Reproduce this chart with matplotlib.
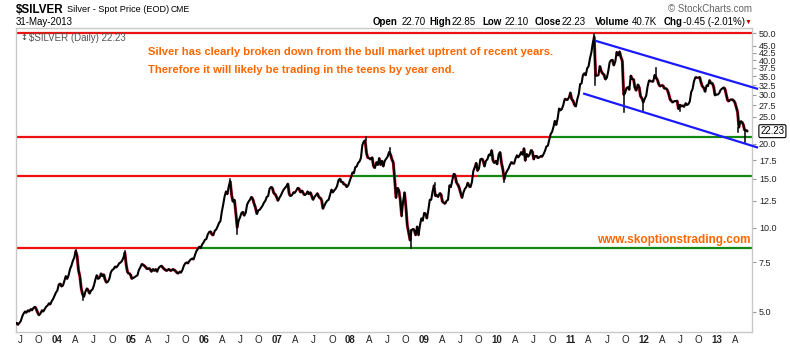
import matplotlib
matplotlib.use("Agg")
import matplotlib.pyplot as plt
import matplotlib.dates as mdates
from matplotlib.collections import LineCollection
import numpy as np
import pandas as pd

plt.rcParams["font.family"] = ["Liberation Sans", "DejaVu Sans"]

# Weekly (Friday) closes, $/oz. Each list starts on the first Friday of its year.
silver_2003 = [4.52, 4.55, 4.48, 4.55,
               4.62, 4.80, 4.92, 5.00,
               4.95, 5.05, 5.00, 5.10, 5.05,
               5.15, 5.20, 5.10, 4.95,
               4.85, 4.92, 5.05, 5.00, 5.10,
               5.20, 5.25, 5.35, 5.30,
               5.45, 5.55, 5.70, 5.85]
silver_2004 = [5.95, 6.25, 6.30, 6.15, 6.20,
               6.45, 6.70, 6.55, 6.75,
               7.10, 7.30, 7.60, 7.80,
               8.25, 7.95, 7.05, 6.70, 6.05,
               5.75, 5.65, 5.90, 6.05,
               5.95, 5.80, 5.95, 6.00,
               6.20, 6.50, 6.75, 6.55, 6.60,
               6.85, 6.70, 6.80, 6.50,
               6.35, 6.40, 6.55, 6.90,
               7.05, 7.10, 7.25, 7.20, 7.30,
               7.45, 7.50, 7.60, 7.80,
               8.15, 7.35, 6.90, 6.85, 6.80]
silver_2005 = [6.55, 6.60, 6.65, 6.70,
               6.75, 7.05, 7.20, 7.40,
               7.35, 7.30, 7.20, 7.10,
               7.15, 7.10, 6.95, 7.10, 7.00,
               7.10, 6.95, 7.15, 7.25,
               7.30, 7.20, 7.10, 7.05,
               7.00, 7.10, 7.05, 7.00, 7.10,
               7.05, 7.00, 6.90, 6.85,
               6.95, 6.90, 7.05, 7.30, 7.45,
               7.50, 7.45, 7.60, 7.70,
               7.75, 7.70, 8.00, 8.25,
               8.40, 8.55, 8.45, 8.70, 8.85]
silver_2006 = [9.05, 9.10, 9.45, 9.65,
               9.70, 9.45, 9.40, 9.75,
               9.85, 10.10, 10.40, 10.55, 11.40,
               12.10, 12.95, 13.50, 13.20,
               14.10, 14.70, 13.10, 12.40,
               12.60, 11.30, 10.00, 10.60, 10.90,
               11.30, 11.40, 11.05, 11.30,
               12.10, 12.40, 12.60, 12.90,
               12.70, 12.20, 11.80, 11.20, 11.55,
               11.60, 11.80, 12.00, 12.30,
               12.50, 12.90, 13.00, 13.80,
               14.00, 13.90, 13.30, 13.20, 12.90]
silver_2007 = [12.50, 12.80, 13.05, 13.40,
               13.70, 13.90, 14.10, 14.40,
               13.20, 13.00, 13.10, 13.40, 13.35,
               13.60, 13.90, 13.80, 13.40,
               13.60, 13.30, 13.10, 13.20,
               13.50, 13.20, 13.40, 13.00, 12.60,
               12.90, 13.10, 13.30, 12.90,
               12.80, 12.60, 11.70, 12.00, 12.30,
               12.50, 12.60, 13.10, 13.70,
               13.40, 13.60, 13.80, 14.10,
               14.80, 15.00, 14.60, 14.60, 14.30,
               14.30, 14.00, 14.20, 14.70]
silver_2008 = [15.20, 15.80, 15.70, 16.50,
               16.60, 17.10, 17.30, 17.80, 19.80,
               20.40, 20.60, 18.50, 17.80,
               17.80, 17.60, 17.90, 16.60,
               16.40, 17.20, 16.80, 17.80, 16.80,
               17.40, 16.60, 17.40, 17.70,
               18.00, 18.70, 18.40, 17.60,
               17.20, 15.00, 12.80, 13.90, 13.60,
               12.60, 11.00, 12.40, 13.40,
               11.90, 10.20, 9.60, 9.00, 9.80,
               9.90, 9.80, 9.40, 10.10,
               9.40, 10.20, 10.80, 10.60]
silver_2009 = [11.30, 11.20, 10.80, 11.60, 12.60,
               12.60, 13.50, 14.20, 13.00,
               13.10, 12.90, 13.30, 13.20,
               12.40, 12.30, 12.20, 12.50,
               12.60, 14.20, 14.00, 14.80, 15.60,
               15.50, 14.50, 14.30, 13.90,
               13.30, 12.80, 13.40, 13.80, 14.00,
               14.50, 14.10, 14.00, 14.60,
               16.00, 16.50, 17.10, 16.00,
               16.30, 17.60, 17.70, 17.40, 16.60,
               17.40, 17.60, 18.30, 18.20,
               19.00, 17.40, 17.10, 17.40]
silver_2010 = [16.90, 18.30, 18.70, 17.10, 16.20,
               14.90, 15.60, 16.00, 16.30,
               16.80, 17.20, 17.00, 17.00,
               17.70, 18.20, 17.90, 18.20, 18.70,
               18.30, 19.30, 17.40, 18.40,
               18.00, 18.30, 19.00, 18.80,
               17.60, 18.10, 18.10, 17.80, 17.90,
               18.10, 18.00, 18.40, 18.90,
               19.60, 19.70, 20.70, 21.70,
               22.10, 23.00, 24.20, 23.40, 24.70,
               26.80, 26.40, 26.70, 27.60,
               29.00, 28.90, 28.80, 29.40, 30.60]
silver_2011 = [28.90, 28.60, 27.60, 27.30,
               29.00, 30.20, 32.80, 33.00,
               35.40, 35.90, 35.30, 37.40,
               38.00, 40.60, 42.70, 46.10, 48.60,
               35.30, 35.20, 35.30, 38.10,
               36.50, 35.80, 35.50, 34.10,
               34.60, 36.50, 39.30, 40.00, 40.10,
               38.30, 39.50, 42.80, 41.60,
               43.00, 41.00, 39.80, 30.00, 30.50,
               31.80, 32.00, 31.30, 35.20,
               34.20, 34.20, 31.80, 31.10,
               32.70, 32.00, 29.60, 29.20, 28.20]
silver_2012 = [29.10, 29.80, 32.20, 33.80,
               33.60, 33.60, 33.50, 35.40,
               34.60, 34.00, 32.70, 32.20, 32.50,
               32.40, 31.60, 31.70, 31.30,
               30.30, 28.90, 28.50, 28.20,
               28.50, 28.50, 28.60, 26.70, 27.60,
               27.30, 27.50, 27.20, 28.00,
               27.60, 27.80, 28.40, 30.70, 31.50,
               33.60, 34.70, 34.60, 34.60,
               34.80, 33.30, 32.10, 31.90,
               30.80, 32.50, 32.30, 33.90, 33.00,
               33.10, 32.10, 29.90, 30.10]
silver_2013 = [30.10, 30.50, 31.30, 31.60,
               31.90, 31.60, 30.00, 28.60,
               28.50, 28.90, 28.90, 28.70, 28.30,
               27.20, 26.10, 22.90, 24.10,
               24.00, 23.60, 22.40, 22.40, 22.23]

year_lists = [silver_2003, silver_2004, silver_2005, silver_2006, silver_2007, silver_2008,
              silver_2009, silver_2010, silver_2011, silver_2012, silver_2013]
year_starts = ["2003-06-06", "2004-01-02", "2005-01-07", "2006-01-06", "2007-01-05",
               "2008-01-04", "2009-01-02", "2010-01-01", "2011-01-07", "2012-01-06",
               "2013-01-04"]

# intraday extremes that poke out of the weekly closes
wick_dates = ["2004-04-02", "2004-05-10", "2004-12-02", "2006-05-12", "2006-06-13",
              "2008-03-17", "2008-07-15", "2008-10-28", "2009-02-23", "2010-02-05",
              "2011-04-28", "2011-05-05", "2011-09-26", "2011-12-29", "2012-02-29",
              "2012-06-28", "2013-04-16", "2013-05-20"]
wick_prices = [8.35, 5.50, 8.25, 14.95, 9.50,
               21.10, 19.30, 8.45, 14.50, 14.60,
               49.80, 32.50, 26.10, 26.20, 37.40,
               26.20, 22.00, 20.20]

# support / resistance levels
level_prices = [50.0, 21.2, 21.2, 15.3, 15.3, 15.3, 15.3, 8.43, 8.43]
level_starts = ["2003-06-01", "2003-06-01", "2010-10-01", "2003-06-01", "2008-01-15",
                "2008-08-22", "2009-09-24", "2003-06-01", "2005-12-01"]
level_ends = ["2013-07-01", "2010-10-01", "2013-07-01", "2008-01-15", "2008-08-22",
              "2009-09-24", "2013-07-01", "2005-12-01", "2013-07-01"]
level_colors = ["#ee1111", "#ee1111", "#118811", "#ee1111", "#118811",
                "#ee1111", "#118811", "#ee1111", "#118811"]

# falling channel since the 2011 top
upper_dates = ["2011-05-08", "2013-07-18"]
upper_prices = [46.9, 31.6]
lower_dates = ["2011-03-10", "2013-07-18"]
lower_prices = [30.3, 19.45]

y_ticks = [5.0, 7.5, 10.0, 12.5, 15.0, 17.5, 20.0, 25.0, 27.5, 30.0,
           32.5, 35.0, 37.5, 40.0, 42.5, 45.0, 50.0]
last_close = 22.23

W, H = 790, 349


def px(x, y):
    return x / W, 1 - y / H


dates = pd.DatetimeIndex([])
for start, vals in zip(year_starts, year_lists):
    dates = dates.append(pd.date_range(start, periods=len(vals), freq="W-FRI"))
closes = np.concatenate([np.asarray(v, dtype=float) for v in year_lists])
xs = mdates.date2num(dates)

fig = plt.figure(figsize=(W / 100, H / 100), dpi=100)
ax = fig.add_axes([16 / W, 17 / H, 736 / W, 304 / H])
ax.set_yscale("log")
ax.set_ylim(4.22, 52.2)
ax.set_xlim(mdates.datestr2num("2003-06-10"), mdates.datestr2num("2013-06-23"))

# levels
for p, s, e, c in zip(level_prices, level_starts, level_ends, level_colors):
    ax.plot([mdates.datestr2num(s), mdates.datestr2num(e)], [p, p], color=c, lw=1.6,
            solid_capstyle="butt", zorder=2)

# down weeks get a red fringe under the black price line
segs = np.stack([np.column_stack([xs[:-1], closes[:-1]]),
                 np.column_stack([xs[1:], closes[1:]])], axis=1)
down = closes[1:] < closes[:-1]
ax.add_collection(LineCollection(segs[down], colors="#e8203a", linewidths=2.2, zorder=3))
ax.plot(xs, closes, color="black", lw=1.5, zorder=4)

for d, p in zip(wick_dates, wick_prices):
    dn = mdates.datestr2num(d)
    i = int(np.argmin(np.abs(xs - dn)))
    ax.plot([dn, dn], [closes[i], p], color="black", lw=1.1, zorder=4)

ax.plot(mdates.datestr2num(upper_dates), upper_prices, color="#1a1aff", lw=1.6,
        clip_on=False, zorder=5)
ax.plot(mdates.datestr2num(lower_dates), lower_prices, color="#1a1aff", lw=1.6,
        clip_on=False, zorder=5)

# frame
for sp in ax.spines.values():
    sp.set_color("#c8c8c8")
    sp.set_linewidth(1.0)

# right price axis
ax.yaxis.tick_right()
ax.yaxis.set_minor_locator(matplotlib.ticker.NullLocator())
ax.set_yticks(y_ticks)
ax.set_yticklabels([f"{v:.1f}" for v in y_ticks])
ax.tick_params(axis="y", which="major", length=3, width=0.8, color="#999999",
               labelsize=6.5, labelcolor="#222222", pad=2)
ax.annotate(f"{last_close:.2f}", xy=(1.0, last_close), xycoords=("axes fraction", "data"),
            xytext=(6, 0), textcoords="offset points", fontsize=7, va="center", ha="left",
            bbox=dict(boxstyle="round,pad=0.15", fc="white", ec="black", lw=0.8),
            annotation_clip=False)

# quarterly date axis
q_ticks = pd.date_range("2003-07-01", "2013-04-01", freq="QS")
q_labels = [f"{d:%y}" if d.month == 1 else {4: "A", 7: "J", 10: "O"}[d.month] for d in q_ticks]
ax.set_xticks(mdates.date2num(q_ticks))
ax.set_xticklabels(q_labels)
ax.tick_params(axis="x", length=0, labelsize=7, labelcolor="#222222", pad=2)
for lab, d in zip(ax.get_xticklabels(), q_ticks):
    if d.month == 1:
        lab.set_fontweight("bold")

# header
fig.text(*px(16, 10), "$SILVER", fontsize=8.4, fontweight="bold", va="center")
fig.text(*px(67, 10), "Silver - Spot Price (EOD)", fontsize=6.6, va="center")
fig.text(*px(171, 10), "CME", fontsize=6.2, va="center")
fig.text(*px(16, 22), "31-May-2013", fontsize=7, va="center")
fig.text(*px(752, 9), "\u00a9 StockCharts.com", fontsize=7, va="center", ha="right",
         color="#666666")
quote = [(373, "Open", True), (402, "22.70", False), (429, "High", True), (452, "22.85", False),
         (482, "Low", True), (505, "22.10", False), (535, "Close", True), (562, "22.23", False),
         (595, "Volume", True), (632, "40.7K", False), (664, "Chg", True),
         (683, "-0.45 (-2.01%)", False)]
for x, s, b in quote:
    fig.text(*px(x, 22), s, fontsize=7, va="center", fontweight="bold" if b else "normal")
fig.text(*px(748, 22.5), "\u25bc", fontsize=5, va="center", ha="center", color="#cc0000")

# legend tag inside the plot
ax.text(0.006, 0.985, "\u2195", transform=ax.transAxes, fontsize=6, va="top", color="#333333",
        family="DejaVu Sans")
ax.text(0.018, 0.985, "$SILVER (Daily) 22.23", transform=ax.transAxes, fontsize=7, va="top",
        color="#555555")

orange = "#ff6600"
fig.text(*px(148, 52), "Silver has clearly broken down from the bull market uptrent of recent years.",
         fontsize=8.1, fontweight="bold", color=orange, va="center")
fig.text(*px(148, 70), "Therefore it will likely be trading in the teens by year end.",
         fontsize=8.1, fontweight="bold", color=orange, va="center")
fig.text(*px(751, 240), "www.skoptionstrading.com", fontsize=8.5, fontweight="bold",
         color=orange, va="center", ha="right")

fig.savefig("out.png", dpi=100)
